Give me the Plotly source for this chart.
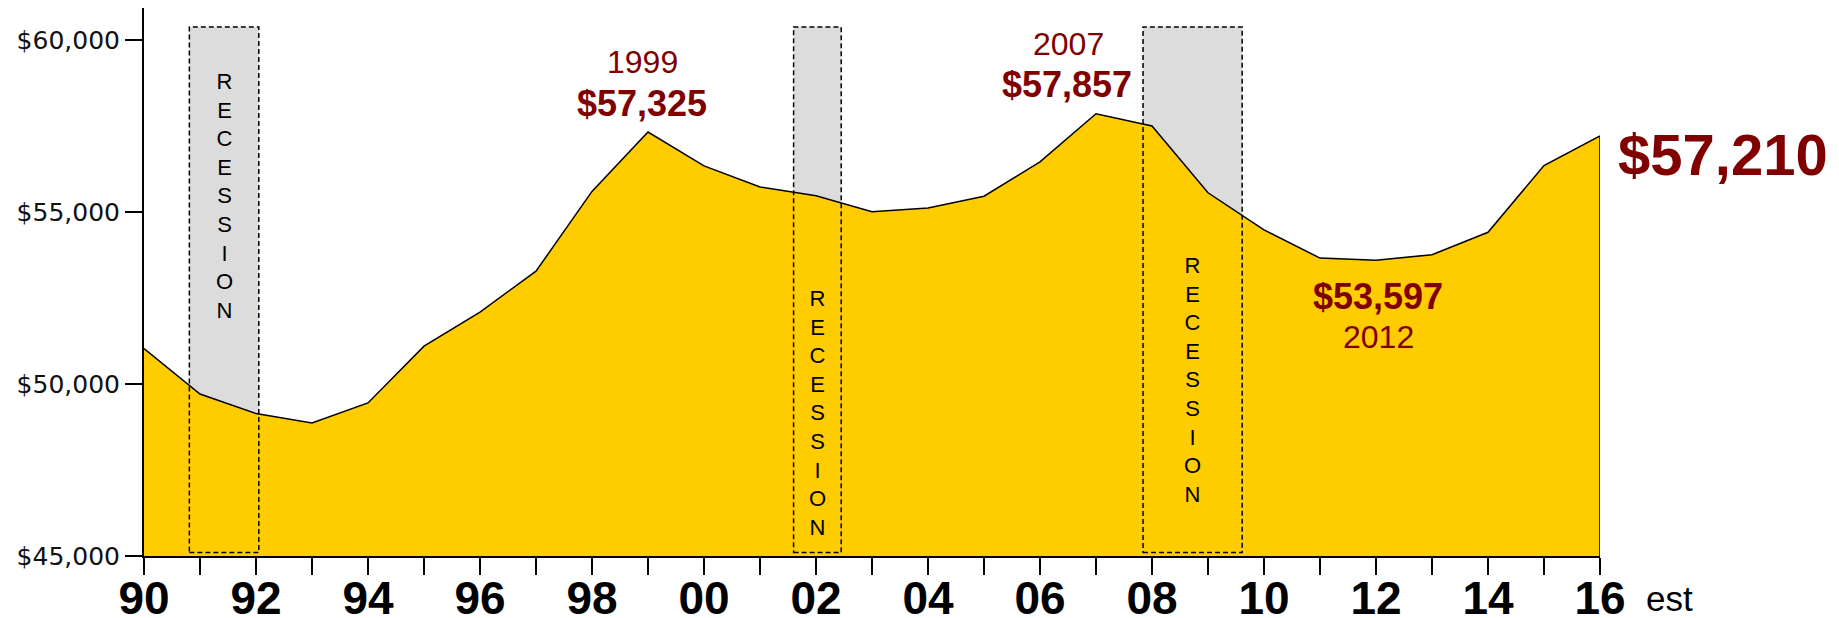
import plotly.graph_objects as go

# ---------------- data ----------------
years = list(range(1990, 2017))
income = [51030, 49710, 49140, 48870, 49450, 51100, 52090, 53280, 55600, 57325,
          56340, 55730, 55470, 55010, 55120, 55460, 56460, 57857, 57500, 55560,
          54480, 53660, 53597, 53760, 54410, 56350, 57210]

tick_years = years
tick_labels = [("<b>%02d</b>" % (y % 100)) if y % 2 == 0 else "" for y in years]

y_ticks = [45000, 50000, 55000, 60000]
y_tick_labels = ["$45,000", "$50,000", "$55,000", "$60,000"]

recession_start = [1990.81, 2001.60, 2007.84]
recession_end = [1992.05, 2002.45, 2009.61]
recession_label_y = [55460, 49150, 50110]
recession_top = 60380
recession_bottom = 45100

RED = "#800000"
YELLOW = "#FFCC00"
FONT = "Liberation Sans, Arial"

fig = go.Figure()

fig.add_trace(go.Scatter(
    x=years, y=income, mode="lines",
    fill="tozeroy", fillcolor=YELLOW,
    line=dict(color="black", width=1.5),
    hoverinfo="skip", showlegend=False,
))

shapes = []
for x0, x1 in zip(recession_start, recession_end):
    shapes.append(dict(type="rect", xref="x", yref="y", x0=x0, x1=x1,
                       y0=recession_bottom, y1=recession_top,
                       fillcolor="#DCDCDC", line=dict(width=0), layer="below"))
    shapes.append(dict(type="rect", xref="x", yref="y", x0=x0, x1=x1,
                       y0=recession_bottom, y1=recession_top,
                       fillcolor="rgba(0,0,0,0)",
                       line=dict(color="black", width=1.5, dash="5px,3px"),
                       layer="above"))
# right edge of the area
shapes.append(dict(type="line", xref="x", yref="y", x0=years[-1], x1=years[-1],
                   y0=45000, y1=income[-1], line=dict(color="black", width=1.5)))

annotations = []
rec_text = "<br>".join(list("RECESSION"))
for x0, x1, ly in zip(recession_start, recession_end, recession_label_y):
    annotations.append(dict(x=(x0 + x1) / 2, y=ly, xref="x", yref="y",
                            text=rec_text, showarrow=False,
                            xanchor="center", yanchor="middle",
                            font=dict(family=FONT, size=22, color="black")))

peak1_i = years.index(1999)
peak2_i = years.index(2007)
low_i = years.index(2012)


def ann(x, y, text, size, color=RED, xref="x", yref="y"):
    return dict(x=x, y=y, xref=xref, yref=yref, text=text, showarrow=False,
                xanchor="center", yanchor="middle",
                font=dict(family=FONT, size=size, color=color))


annotations += [
    ann(1998.91, 59375, "1999", 32),
    ann(1998.89, 58168, "<b>$%s</b>" % format(income[peak1_i], ","), 36),
    ann(2006.5, 59884, "2007", 32),
    ann(2006.48, 58720, "<b>$%s</b>" % format(income[peak2_i], ","), 36),
    ann(2012.04, 52554, "<b>$%s</b>" % format(income[low_i], ","), 36),
    ann(2012.05, 51361, "2012", 32),
    ann(1.0845, 0.733, "<b>$%s</b>" % format(income[-1], ","), 58, xref="paper", yref="paper"),
    ann(1.048, -0.077, "est", 35, color="black", xref="paper", yref="paper"),
]

fig.update_layout(
    width=1839, height=618,
    margin=dict(l=136, r=247, t=0, b=70),
    paper_bgcolor="white", plot_bgcolor="white",
    showlegend=False,
    shapes=shapes, annotations=annotations,
    xaxis=dict(range=[1990, 2016], tickmode="array", tickvals=tick_years,
               ticktext=tick_labels, ticks="outside", ticklen=17, tickwidth=2,
               tickcolor="black", showline=True, linecolor="black", linewidth=2,
               showgrid=False, zeroline=False, automargin=False,
               ticklabelstandoff=-16,
               tickfont=dict(family=FONT, size=46, color="black")),
    yaxis=dict(range=[45000, 60931], tickmode="array", tickvals=y_ticks,
               ticktext=y_tick_labels, ticks="outside", ticklen=17, tickwidth=1.5,
               tickcolor="black", showline=True, linecolor="black", linewidth=2,
               showgrid=False, zeroline=False, automargin=False,
               tickfont=dict(family="DejaVu Sans", size=25, color="#111111")),
)

fig.write_html("out.html")
